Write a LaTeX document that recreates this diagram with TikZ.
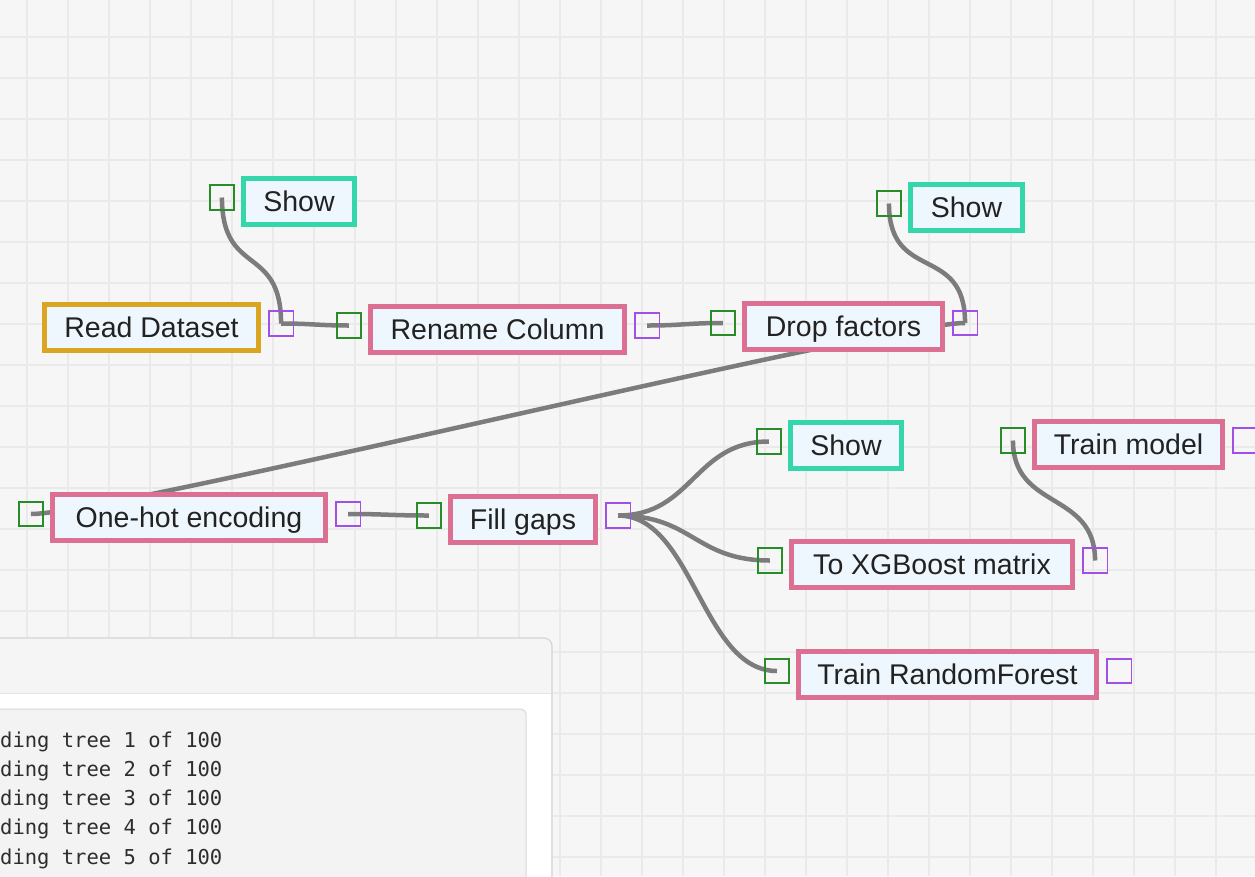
\documentclass[tikz,border=0pt]{standalone}
\usepackage{fontspec}
\setmainfont{Liberation Sans}
\newfontfamily\logfont{DejaVu Sans Mono}
\usepackage{xcolor}
\definecolor{flcanvas}{RGB}{246,246,246}
\definecolor{flgrid}{RGB}{234,234,234}
\definecolor{flfill}{RGB}{239,247,254}
\definecolor{fltext}{RGB}{34,34,34}
\definecolor{flgold}{RGB}{218,165,32}
\definecolor{flteal}{RGB}{52,214,170}
\definecolor{flpink}{RGB}{219,112,147}
\definecolor{flgreen}{RGB}{40,140,40}
\definecolor{flviolet}{RGB}{160,80,230}
\definecolor{flwire}{RGB}{124,124,124}
\definecolor{flheader}{RGB}{245,245,245}
\definecolor{flsep}{RGB}{228,228,228}
\definecolor{flcardline}{RGB}{212,212,212}
\definecolor{flcode}{RGB}{243,243,243}
\definecolor{flcodeline}{RGB}{216,216,216}
\definecolor{fllog}{RGB}{45,45,45}
\usetikzlibrary{positioning}
\pgfdeclarelayer{canvas}
\pgfdeclarelayer{wires}
\pgfsetlayers{canvas,wires,main}
\tikzset{
  block/.style={draw=#1, line width=5pt, fill=flfill, text=fltext,
                font=\fontsize{28.5}{34}\selectfont, inner sep=0pt,
                minimum height=46pt, text height=24pt, text depth=4pt},
  inport/.style={draw=flgreen, line width=1.6pt, minimum size=24.5pt, inner sep=0pt},
  outport/.style={draw=flviolet, line width=1.6pt, minimum size=24.5pt, inner sep=0pt},
  wire/.style={draw=flwire, line width=4.5pt},
  gridline/.style={draw=flgrid, line width=1.3pt},
  logline/.style={font=\logfont\fontsize{20.5}{24}\selectfont, text=fllog,
                  inner sep=0pt, anchor=base west},
}

\begin{document}
\begin{tikzpicture}[x=1pt, y=-1pt]
\useasboundingbox (0,0) rectangle (1255,876);
\clip (0,0) rectangle (1255,876);

% --- Canvas grid ---
\begin{pgfonlayer}{canvas}
\fill[flcanvas] (0,0) rectangle (1255,876);
\foreach \k in {0,...,30}
  \draw[gridline] ({27+41*\k},0) -- ({27+41*\k},876);
\foreach \k in {0,...,20}
  \draw[gridline] (0,{37+41*\k}) -- (1255,{37+41*\k});
\end{pgfonlayer}

% --- Upper chain ---
\node[block=flgold, minimum width=214pt] (readds) at (151.5,327) {Read Dataset};
\node[block=flteal, minimum width=111pt] (show1) at (299,201) {Show};
\node[block=flpink, minimum width=254pt] (rename) at (497.5,329) {Rename Column};
\node[block=flpink, minimum width=198pt] (dropf) at (843.5,326.5) {Drop factors};
\node[block=flteal, minimum width=112pt] (show2) at (966.5,207) {Show};

\node[outport, right=7pt of readds, yshift=3.5pt] (readds-out) {};
\node[inport, left=6pt of show1, yshift=3.5pt] (show1-in) {};
\node[inport, left=6pt of rename, yshift=3.5pt] (rename-in) {};
\node[outport, right=7pt of rename, yshift=3.5pt] (rename-out) {};
\node[inport, left=6pt of dropf, yshift=3.5pt] (dropf-in) {};
\node[outport, right=7pt of dropf, yshift=3.5pt] (dropf-out) {};
\node[inport, left=6pt of show2, yshift=3.5pt] (show2-in) {};

% --- Lower chain ---
\node[block=flpink, minimum width=273pt] (onehot) at (189,517.5) {One-hot encoding};
\node[block=flpink, minimum width=145pt] (fillgaps) at (523,519) {Fill gaps};
\node[block=flteal, minimum width=111pt] (show3) at (846,445) {Show};
\node[block=flpink, minimum width=281pt] (xgbmatrix) at (932,564) {To XGBoost matrix};
\node[block=flpink, minimum width=298pt] (trainrf) at (947.5,674.5) {Train RandomForest};
\node[block=flpink, minimum width=188pt] (trainmodel) at (1128.5,444) {Train model};

\node[inport, left=6pt of onehot, yshift=3.5pt] (onehot-in) {};
\node[outport, right=7pt of onehot, yshift=3.5pt] (onehot-out) {};
\node[inport, left=6pt of fillgaps, yshift=3.5pt] (fillgaps-in) {};
\node[outport, right=7pt of fillgaps, yshift=3.5pt] (fillgaps-out) {};
\node[inport, left=6pt of show3, yshift=3.5pt] (show3-in) {};
\node[inport, left=6pt of xgbmatrix, yshift=3.5pt] (xgbmatrix-in) {};
\node[outport, right=7pt of xgbmatrix, yshift=3.5pt] (xgbmatrix-out) {};
\node[inport, left=6pt of trainrf, yshift=3.5pt] (trainrf-in) {};
\node[outport, right=7pt of trainrf, yshift=3.5pt] (trainrf-out) {};
\node[inport, left=6pt of trainmodel, yshift=3.5pt] (trainmodel-in) {};
\node[outport, right=7pt of trainmodel, yshift=3.5pt] (trainmodel-out) {};

% --- Links ---
\begin{pgfonlayer}{wires}
\draw[wire] (readds-out.center) .. controls +(30,0) and +(-30,0) .. (rename-in.center);
\draw[wire] (readds-out.center) .. controls +(0,-80) and +(0,80) .. (show1-in.center);
\draw[wire] (rename-out.center) .. controls +(35,0) and +(-35,0) .. (dropf-in.center);
\draw[wire] (dropf-out.center) .. controls +(0,-80) and +(0,80) .. (show2-in.center);
\draw[wire] (dropf-out.center) .. controls +(-80,0) and +(80,0) .. (onehot-in.center);
\draw[wire] (onehot-out.center) .. controls +(38,0) and +(-38,0) .. (fillgaps-in.center);
\foreach \dst in {show3-in, xgbmatrix-in, trainrf-in}
  \draw[wire] (fillgaps-out.center) .. controls +(75,0) and +(-75,0) .. (\dst.center);
\draw[wire] (xgbmatrix-out.center) .. controls +(0,-70) and +(0,70) .. (trainmodel-in.center);
\end{pgfonlayer}

% --- Log panel ---
\fill[flheader, rounded corners=8pt] (-20,638) rectangle (552,900);
\fill[white] (-20,693.5) rectangle (551,900);
\draw[flsep, line width=1pt] (-20,693) -- (551.5,693);
\draw[flcardline, line width=1.2pt, rounded corners=8pt] (-20,638) rectangle (552,900);
\draw[draw=flcodeline, fill=flcode, line width=1pt, rounded corners=5pt] (-20,709) rectangle (526,900);
\foreach \i in {1,...,5}
  \node[logline] (log\i) at (0,{747+29.3*(\i-1)}) {ding tree \i{} of 100};

\end{tikzpicture}
\end{document}
